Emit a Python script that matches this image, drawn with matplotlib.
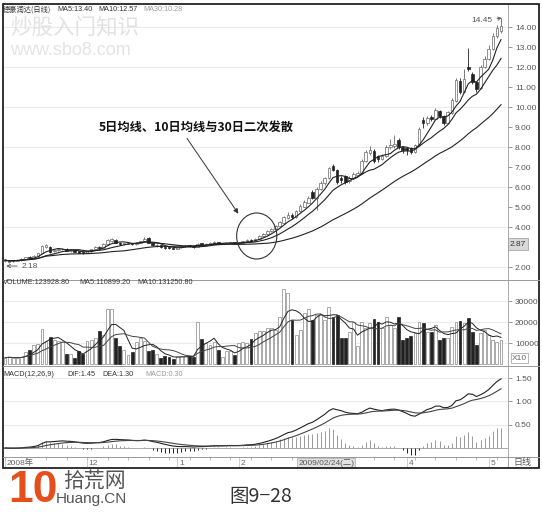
import numpy as np
import pandas as pd
import matplotlib
matplotlib.use('Agg')
import matplotlib.pyplot as plt
from matplotlib.patches import Rectangle, Ellipse
from matplotlib.lines import Line2D

W, H = 542, 513

# daily bars
opens = [2.30, 2.24, 2.28, 2.30, 2.34, 2.40, 2.52, 2.45, 2.55, 2.70,
         3.00, 3.02, 2.78, 2.84, 2.88, 2.92, 2.80, 2.84, 2.78, 2.74,
         2.70, 2.78, 2.88, 3.02, 2.96, 3.15, 3.30, 3.35, 3.22, 3.14,
         3.17, 3.20, 3.14, 3.20, 3.28, 3.45, 3.20, 3.08, 3.08, 3.00,
         2.97, 2.95, 2.92, 2.98, 3.04, 3.08, 3.04, 3.00, 3.18, 3.10,
         3.14, 3.20, 3.24, 3.16, 3.18, 3.20, 3.23, 3.18, 3.22, 3.28,
         3.36, 3.30, 3.42, 3.55, 3.66, 3.78, 3.90, 4.05, 4.22, 4.45,
         4.62, 4.48, 4.80, 5.02, 5.22, 5.75, 5.45, 5.90, 6.20, 6.45,
         7.05, 6.85, 6.45, 6.55, 6.28, 6.45, 6.62, 6.72, 7.30, 7.70,
         7.80, 7.55, 7.40, 7.55, 8.00, 8.05, 8.35, 8.00, 7.95, 7.95,
         7.75, 8.10, 9.35, 9.20, 9.50, 9.40, 9.80, 9.55, 9.20, 9.70,
         10.30, 11.30, 10.75, 12.00, 11.65, 11.25, 10.95, 12.00, 12.40, 12.90,
         13.55, 13.80]
closes = [2.34, 2.28, 2.32, 2.35, 2.40, 2.48, 2.44, 2.55, 2.68, 3.05,
          3.08, 2.75, 2.85, 2.90, 2.92, 2.80, 2.84, 2.76, 2.72, 2.70,
          2.78, 2.88, 3.00, 2.95, 3.15, 3.35, 3.38, 3.22, 3.15, 3.18,
          3.20, 3.14, 3.20, 3.28, 3.42, 3.22, 3.08, 3.10, 3.00, 2.96,
          2.94, 2.92, 2.98, 3.04, 3.08, 3.03, 3.00, 3.15, 3.10, 3.14,
          3.20, 3.24, 3.16, 3.18, 3.21, 3.22, 3.18, 3.22, 3.28, 3.35,
          3.30, 3.42, 3.55, 3.66, 3.78, 3.90, 4.05, 4.25, 4.48, 4.60,
          4.48, 4.80, 5.05, 5.25, 5.45, 5.45, 5.90, 6.20, 6.45, 6.95,
          6.85, 6.25, 6.35, 6.25, 6.45, 6.65, 6.72, 7.30, 7.75, 7.85,
          7.30, 7.40, 7.55, 8.00, 8.10, 8.15, 8.00, 7.85, 7.85, 7.75,
          8.10, 8.90, 9.20, 9.45, 9.40, 9.85, 9.55, 9.20, 9.75, 10.35,
          11.35, 10.75, 11.40, 11.90, 11.25, 10.90, 12.00, 12.40, 12.90, 13.55,
          13.95, 14.05]
highs = [2.38, 2.32, 2.35, 2.38, 2.43, 2.52, 2.56, 2.58, 2.72, 3.10,
         3.15, 3.06, 2.90, 2.95, 2.97, 2.94, 2.88, 2.86, 2.80, 2.76,
         2.82, 2.92, 3.05, 3.06, 3.20, 3.42, 3.45, 3.38, 3.25, 3.22,
         3.24, 3.22, 3.25, 3.32, 3.48, 3.50, 3.22, 3.14, 3.10, 3.02,
         3.00, 2.97, 3.02, 3.08, 3.12, 3.10, 3.06, 3.22, 3.22, 3.18,
         3.24, 3.28, 3.26, 3.21, 3.24, 3.25, 3.25, 3.26, 3.32, 3.40,
         3.40, 3.46, 3.60, 3.72, 3.84, 3.96, 4.12, 4.32, 4.55, 4.75,
         4.68, 4.86, 5.15, 5.35, 5.55, 5.85, 5.98, 6.30, 6.50, 7.00,
         7.15, 6.90, 6.55, 6.60, 6.55, 6.75, 6.80, 7.40, 7.85, 8.05,
         7.90, 7.60, 7.65, 8.10, 8.40, 8.60, 8.45, 8.05, 8.00, 8.00,
         8.15, 9.00, 9.50, 9.55, 9.60, 9.95, 9.85, 9.60, 9.80, 10.45,
         11.45, 11.45, 11.90, 12.95, 11.75, 11.30, 12.10, 12.55, 13.10, 13.70,
         14.10, 14.45]
lows = [2.26, 2.18, 2.24, 2.28, 2.31, 2.38, 2.40, 2.43, 2.52, 2.68,
        2.95, 2.72, 2.74, 2.80, 2.85, 2.78, 2.77, 2.74, 2.68, 2.66,
        2.68, 2.76, 2.86, 2.90, 2.94, 3.12, 3.25, 3.18, 3.10, 3.10,
        3.14, 3.10, 3.12, 3.18, 3.26, 3.18, 3.04, 3.02, 2.96, 2.92,
        2.90, 2.88, 2.90, 2.96, 3.02, 3.00, 2.97, 2.98, 3.06, 3.07,
        3.12, 3.17, 3.13, 3.14, 3.16, 3.18, 3.15, 3.16, 3.20, 3.26,
        3.26, 3.28, 3.40, 3.52, 3.62, 3.75, 3.86, 4.02, 4.18, 4.40,
        4.40, 4.45, 4.76, 4.98, 5.18, 5.40, 4.85, 5.85, 6.12, 6.40,
        6.80, 6.15, 6.20, 6.15, 6.22, 6.40, 6.58, 6.70, 7.25, 7.60,
        7.20, 7.25, 7.35, 7.50, 7.90, 7.95, 7.90, 7.70, 7.60, 7.65,
        7.70, 8.05, 8.95, 9.10, 9.30, 9.35, 9.45, 9.10, 9.15, 9.65,
        10.25, 10.65, 10.70, 11.80, 11.15, 10.75, 10.90, 11.95, 12.35, 12.85,
        13.45, 13.70]
volumes = [3000, 3400, 2800, 3000, 3300, 5700, 6700, 9000, 9500, 16700,
           11000, 12900, 11400, 11000, 10500, 4800, 5000, 2900, 6200, 4800,
           11000, 11500, 12400, 15700, 13800, 26200, 26000, 12400, 8600, 6700,
           4300, 5700, 10500, 12400, 11000, 6200, 6700, 4800, 2900, 3800,
           3300, 2400, 3800, 3600, 4000, 3800, 3500, 20000, 11900, 10000,
           9000, 10500, 6700, 3300, 6200, 6000, 4300, 10000, 10500, 10000,
           11900, 14800, 15700, 15700, 17100, 17100, 16200, 22400, 35700, 33800,
           21000, 13800, 16200, 24300, 26200, 21000, 23300, 23300, 21000, 27100,
           22400, 23300, 12400, 12400, 15200, 20000, 8600, 20000, 17100, 19500,
           21400, 20000, 17100, 22400, 18600, 17100, 22400, 11400, 12400, 13300,
           14800, 20000, 19500, 15200, 15200, 18600, 11400, 12400, 12400, 17600,
           20000, 20500, 19500, 21900, 15200, 9000, 14800, 16200, 13800, 11400,
           10500, 11400]

price_ticks = [2, 3, 4, 5, 6, 7, 8, 9, 10, 11, 12, 13, 14]
price_grid = [2, 4, 6, 8, 10, 12, 14]
vol_ticks = [10000, 20000, 30000]
macd_ticks = [0.5, 1.0, 1.5]
month_idx = [0, 20, 42, 57, 98, 118]
month_labels = ['2008年', '12', '1', '2', '4', '5']

plt.rcParams['font.family'] = ['Liberation Sans', 'Noto Sans CJK SC', 'DejaVu Sans']
CJK = ['Noto Sans CJK SC', 'DejaVu Sans']
HDR = 5.2


def fx(x):
    return x / W


def fy(y):
    return 1 - y / H


df = pd.DataFrame({'open': opens, 'close': closes, 'high': highs,
                   'low': lows, 'vol': volumes})
df['ma5'] = df.close.rolling(5, min_periods=1).mean()
df['ma10'] = df.close.rolling(10, min_periods=1).mean()
df['ma30'] = df.close.rolling(30, min_periods=1).mean()
df['vma5'] = df.vol.rolling(5, min_periods=1).mean()
df['vma10'] = df.vol.rolling(10, min_periods=1).mean()
ema12 = df.close.ewm(span=12, adjust=False).mean()
ema26 = df.close.ewm(span=26, adjust=False).mean()
df['dif'] = ema12 - ema26
df['dea'] = df.dif.ewm(span=9, adjust=False).mean()
df['macd'] = 2 * (df.dif - df.dea)
x = np.arange(len(df))
down = df.close < df.open

fig = plt.figure(figsize=(W / 100, H / 100), dpi=100)
fig.patch.set_facecolor('white')

XL = (-0.5, 122.7)


def panel(top, bottom):
    ax = fig.add_axes([fx(3), fy(bottom), fx(508) - fx(3), fy(top) - fy(bottom)])
    ax.set_xlim(*XL)
    ax.set_xticks([])
    ax.yaxis.tick_right()
    ax.tick_params(axis='y', direction='out', length=3, width=0.6,
                   color='#888', labelcolor='#555', labelsize=6, pad=2)
    for s in ['top', 'bottom', 'left']:
        ax.spines[s].set_visible(False)
    ax.spines['right'].set_color('#aaa')
    ax.spines['right'].set_linewidth(0.7)
    return ax


# ---- price panel
ax = panel(4, 280)
ax.set_ylim(1.35, 15.15)
for g in price_grid:
    ax.axhline(g, color='#ebebeb', lw=0.8, zorder=0)
ax.vlines(x, df.low, df.high, color=np.where(down, '#222', '#666'), lw=0.6, zorder=1)
for i, r in df.iterrows():
    lo = min(r.open, r.close)
    h = max(abs(r.close - r.open), 0.04)
    if r.close < r.open:
        ax.add_patch(Rectangle((i - 0.32, lo), 0.64, h, facecolor='#222',
                               edgecolor='#222', lw=0.5, zorder=2))
    else:
        ax.add_patch(Rectangle((i - 0.32, lo), 0.64, h, facecolor='white',
                               edgecolor='#666', lw=0.5, zorder=2))
for c in ['ma5', 'ma10', 'ma30']:
    ax.plot(x, df[c], color='#222', lw=0.8, zorder=3)
ax.set_yticks(price_ticks)
# 3.00 sits under the current-price box, as in the screenshot
ax.set_yticklabels(['' if t == 3 else '%.2f' % t for t in price_ticks])

ax.text(46.6, 9.0, '5日均线、10日均线与30日二次发散', ha='center', va='center',
        fontsize=8.8, fontweight='bold', family=CJK, color='#111')
ax.annotate('', xy=(57.3, 4.55), xytext=(44.0, 8.55),
            arrowprops=dict(arrowstyle='-|>', color='#333', lw=0.7, mutation_scale=7))
ax.add_patch(Ellipse((61.4, 3.55), 9.8, 2.3, fill=False, edgecolor='#333', lw=0.8, zorder=4))
ax.annotate('14.45', xy=(121.2, 14.45), xytext=(119.0, 14.3), ha='right', va='center',
            fontsize=6, color='#555',
            arrowprops=dict(arrowstyle='->', color='#555', lw=0.6, shrinkA=1, shrinkB=0))
ax.annotate('2.18', xy=(0.3, 2.05), xytext=(4.0, 2.05), ha='left', va='center',
            fontsize=6, color='#555',
            arrowprops=dict(arrowstyle='->', color='#555', lw=0.6, shrinkA=1, shrinkB=0))

# ---- volume panel
axv = panel(280, 366)
axv.set_ylim(-950, 40000)
for g in vol_ticks:
    axv.axhline(g, color='#ebebeb', lw=0.8, zorder=0)
axv.bar(x, df.vol, width=0.7, color=np.where(down, '#222', 'white'),
        edgecolor=np.where(down, '#222', '#888'), lw=0.5, zorder=2)
axv.plot(x, df.vma5, color='#222', lw=0.7, zorder=3)
axv.plot(x, df.vma10, color='#444', lw=0.7, zorder=3)
axv.set_yticks(vol_ticks)
axv.set_yticklabels([str(t) for t in vol_ticks])

# ---- MACD panel
axm = panel(366, 457)
axm.set_ylim(-0.194, 1.763)
for g in macd_ticks:
    axm.axhline(g, color='#ebebeb', lw=0.8, zorder=0)
axm.axhline(0, color='#aaa', lw=0.7, zorder=1)
axm.vlines(x, 0, df.macd, color=np.where(df.macd < 0, '#222', '#999'), lw=0.7, zorder=2)
axm.plot(x, df.dif, color='#222', lw=0.8, zorder=3)
axm.plot(x, df.dea, color='#444', lw=0.8, zorder=3)
axm.set_yticks(macd_ticks)
axm.set_yticklabels(['%.2f' % t for t in macd_ticks])

# ---- date strip
axd = fig.add_axes([fx(3), fy(468), fx(508) - fx(3), fy(457) - fy(468)])
axd.set_xlim(*XL)
axd.set_ylim(0, 1)
axd.set_yticks([])
axd.xaxis.tick_top()
axd.set_xticks(np.arange(0, len(df), 5))
axd.tick_params(axis='x', direction='in', length=2, width=0.5, color='#999', labeltop=False)
for s in axd.spines.values():
    s.set_visible(False)
axd.spines['right'].set_visible(True)
axd.spines['right'].set_color('#aaa')
for i, lab in zip(month_idx, month_labels):
    axd.vlines(i, 0, 1, color='#bbb', lw=0.5)
    axd.text(i + 0.4, 0.45, lab, fontsize=6, color='#666', va='center')
axd.text(71.5, 0.45, '2009/02/24(二)', fontsize=6, color='#555', va='center',
         bbox=dict(boxstyle='square,pad=0.15', facecolor='#e2e2e2', edgecolor='#aaa', lw=0.5))

# ---- headers
fig.text(fx(3), fy(9.5), '德豪润达(日线)', fontsize=HDR, color='#333', va='center', family=CJK)
fig.text(fx(57), fy(9.5), 'MA5:13.40', fontsize=HDR, color='#333', va='center')
fig.text(fx(98), fy(9.5), 'MA10:12.57', fontsize=HDR, color='#333', va='center')
fig.text(fx(143), fy(9.5), 'MA30:10.28', fontsize=HDR, color='#999', va='center')
fig.text(fx(3), fy(283), 'VOLUME:123928.80', fontsize=HDR, color='#333', va='center')
fig.text(fx(79), fy(283), 'MA5:110899.20', fontsize=HDR, color='#333', va='center')
fig.text(fx(137), fy(283), 'MA10:131250.80', fontsize=HDR, color='#333', va='center')
fig.text(fx(3), fy(374), 'MACD(12,26,9)', fontsize=HDR, color='#333', va='center')
fig.text(fx(67), fy(374), 'DIF:1.45', fontsize=HDR, color='#333', va='center')
fig.text(fx(102), fy(374), 'DEA:1.30', fontsize=HDR, color='#333', va='center')
fig.text(fx(145), fy(374), 'MACD:0.30', fontsize=HDR, color='#999', va='center')

# right column extras
fig.text(fx(510), fy(244), '2.87', fontsize=6, color='#333', va='center',
         bbox=dict(boxstyle='square,pad=0.25', facecolor='#d8d8d8', edgecolor='#999', lw=0.5))
fig.text(fx(512), fy(358), 'X10', fontsize=6, color='#666', va='center',
         bbox=dict(boxstyle='square,pad=0.15', facecolor='white', edgecolor='#999', lw=0.5))
fig.text(fx(513), fy(462), '日线', fontsize=6.5, color='#555', va='center', family=CJK)

# watermark
fig.text(fx(10), fy(27.5), '炒股入门知识', fontsize=15.5, color='#e2e2e2', va='center', family=CJK)
fig.text(fx(10), fy(51), 'www.sbo8.com', fontsize=13, color='#e4e4e4', va='center')

# frame and separators
for yy in [280, 366, 457]:
    fig.add_artist(Line2D([fx(3), fx(539)], [fy(yy), fy(yy)], color='#999', lw=0.7))
fig.add_artist(Rectangle((fx(3), fy(468)), fx(539) - fx(3), fy(4) - fy(468),
                         transform=fig.transFigure, fill=False, edgecolor='#222', lw=1.3))

# logo and caption
fig.text(fx(8), fy(490), '10', fontsize=32, fontweight='bold', color='#e4501c', va='center')
fig.text(fx(63), fy(481), '拾荒网', fontsize=15, color='#555', va='center', family=CJK)
fig.text(fx(56), fy(499), 'Huang.CN', fontsize=11, color='#555', va='center')
fig.text(fx(261), fy(497), '图9−28', fontsize=14, color='#333', va='center', ha='center', family=CJK)

fig.savefig('out.png', dpi=100, facecolor='white')
